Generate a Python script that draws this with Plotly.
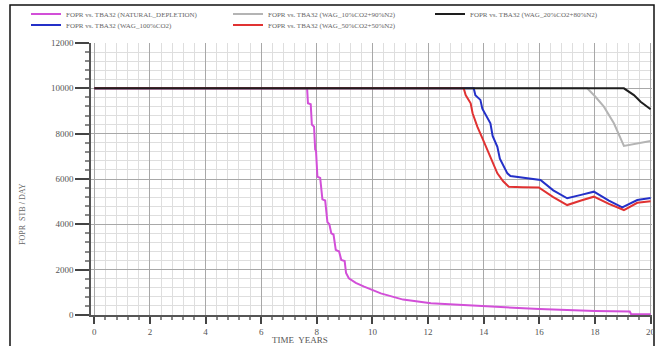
import plotly.graph_objects as go

# ---- data (time in years, FOPR in STB/DAY) ----
t_natural = [0, 7.65, 7.68, 7.78, 7.82, 7.90, 7.94, 7.97, 8.02, 8.12, 8.20, 8.30, 8.38, 8.45, 8.52, 8.60,
             8.68, 8.80, 8.88, 9.00, 9.05, 9.15, 9.40, 9.70, 10.3, 11.1, 12.1, 14.0, 16.0, 18.0, 19.25, 19.3, 20.0]
v_natural = [10000, 10000, 9340, 9300, 8400, 8310, 7300, 7250, 6100, 6050, 5100, 5050, 4100, 4000, 3600, 3550,
             2870, 2800, 2430, 2380, 1850, 1620, 1420, 1250, 955, 680, 520, 400, 260, 175, 150, 30, 30]

t_wag10 = [0, 17.72, 18.0, 18.32, 18.68, 19.04, 20.0]
v_wag10 = [10000, 10000, 9650, 9190, 8460, 7460, 7680]

t_wag20 = [0, 19.04, 19.4, 19.64, 20.0]
v_wag20 = [10000, 10000, 9700, 9410, 9080]

t_wag100 = [0, 13.64, 13.70, 13.88, 13.95, 14.10, 14.24, 14.32, 14.49, 14.58, 14.72, 14.85, 14.96, 15.4, 16.04,
            16.5, 17.0, 17.5, 17.96, 18.5, 18.98, 19.52, 20.0]
v_wag100 = [10000, 10000, 9700, 9490, 9100, 8800, 8460, 7900, 7420, 6900, 6540, 6250, 6130, 6050, 5960,
            5500, 5150, 5300, 5440, 5050, 4750, 5070, 5160]

t_wag50 = [0, 13.28, 13.35, 13.53, 13.60, 13.77, 13.95, 14.13, 14.30, 14.49, 14.70, 14.90, 15.4, 15.98,
           16.5, 17.0, 17.5, 17.96, 18.5, 19.04, 19.52, 20.0]
v_wag50 = [10000, 10000, 9700, 9340, 8900, 8310, 7800, 7280, 6800, 6250, 5900, 5660, 5640, 5630,
           5200, 4850, 5050, 5220, 4900, 4630, 4950, 5020]

names = ["FOPR vs. TBA32 (NATURAL_DEPLETION)",
         "FOPR vs. TBA32 (WAG_10%CO2+90%N2)",
         "FOPR vs. TBA32 (WAG_20%CO2+80%N2)",
         "FOPR vs. TBA32 (WAG_100%CO2)",
         "FOPR vs. TBA32 (WAG_50%CO2+50%N2)"]
colors = ["#d24fd8", "#b4b4b4", "#1e1e1e", "#2430c8", "#e03232"]
legend_row = ["legend", "legend", "legend", "legend2", "legend2"]

x_ticks = [0, 2, 4, 6, 8, 10, 12, 14, 16, 18, 20]
y_ticks = [0, 2000, 4000, 6000, 8000, 10000, 12000]

fig = go.Figure()
series = [
    (t_natural, v_natural, 0),
    (t_wag10, v_wag10, 1),
    (t_wag100, v_wag100, 3),
    (t_wag50, v_wag50, 4),
    (t_wag20, v_wag20, 2),
]
for tx, vy, i in series:
    fig.add_trace(go.Scatter(x=tx, y=vy, mode="lines", name=names[i],
                             line=dict(color=colors[i], width=2), legendrank=i + 1,
                             legend=legend_row[i]))

W, H = 656, 346
L, R, T, B = 91, 4, 43, 31
pw, ph = W - L - R, H - T - B

def px(xp):
    return (xp - L) / pw

def py(yp):
    return (H - B - yp) / ph

axis_font = dict(family="Liberation Serif", size=9, color="#555555")
leg_font = dict(family="Liberation Serif", size=7, color="#666666")

def leg(ypix):
    return dict(orientation="h", x=px(26), y=py(ypix), xanchor="left", yanchor="middle",
                entrywidth=157, entrywidthmode="pixels", font=leg_font,
                bgcolor="rgba(0,0,0,0)", itemwidth=30, tracegroupgap=0)

fig.update_layout(
    width=W, height=H,
    margin=dict(l=L, r=R, t=T, b=B, autoexpand=False),
    paper_bgcolor="white", plot_bgcolor="white",
    showlegend=True,
    legend=leg(14),
    legend2=leg(25),
    xaxis=dict(range=[-0.12, 20.05], tickvals=x_ticks, ticktext=[str(v) for v in x_ticks],
               showgrid=True, gridcolor="#a8a8a8", gridwidth=1,
               ticks="outside", ticklen=7, tickcolor="#444", tickwidth=1.5,
               showline=True, linecolor="#555", linewidth=1.5,
               minor=dict(dtick=0.4, tick0=0, showgrid=True, gridcolor="#dedede",
                          ticks="outside", ticklen=3, tickcolor="#888"),
               tickfont=axis_font, zeroline=False),
    yaxis=dict(range=[0, 12000], tickvals=y_ticks, ticktext=[str(v) for v in y_ticks],
               showgrid=True, gridcolor="#a8a8a8", gridwidth=1,
               ticks="outside", ticklen=14, tickcolor="#444", tickwidth=1.5,
               showline=True, linecolor="#555", linewidth=1.5,
               minor=dict(dtick=400, tick0=0, showgrid=True, gridcolor="#dedede",
                          ticks="outside", ticklen=4, tickcolor="#888"),
               tickfont=axis_font, zeroline=False),
    shapes=[dict(type="rect", xref="paper", yref="paper",
                 x0=px(10), x1=px(654), y0=py(352), y1=py(5),
                 line=dict(color="#111", width=1.5), fillcolor="rgba(0,0,0,0)", layer="below")],
    annotations=[
        dict(text="FOPR  STB / DAY", xref="paper", yref="paper", x=px(22), y=py(214),
             textangle=-90, showarrow=False, xanchor="center", yanchor="middle",
             font=dict(family="Liberation Serif", size=8, color="#666")),
        dict(text="TIME  YEARS", xref="paper", yref="paper", x=px(300), y=py(333),
             showarrow=False, xanchor="center", yanchor="top",
             font=dict(family="Liberation Serif", size=9, color="#555")),
    ],
)

fig.write_html("out.html")
